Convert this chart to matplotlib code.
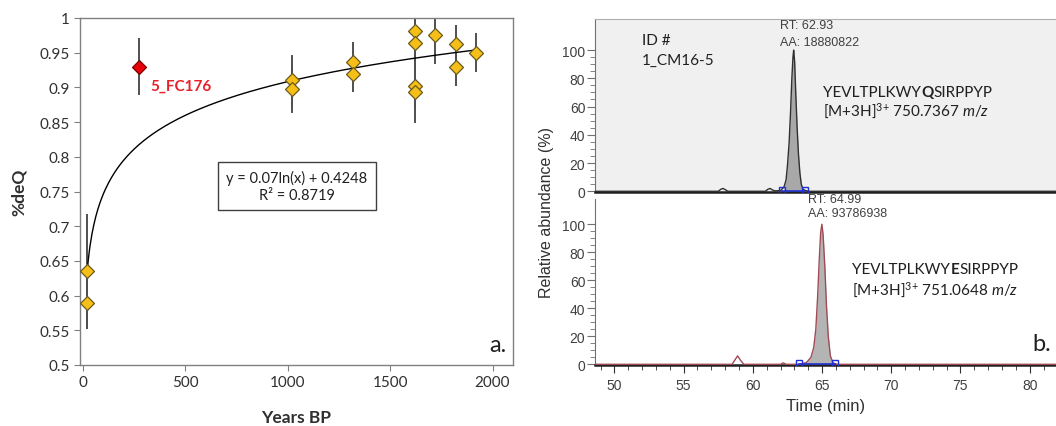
import numpy as np
import matplotlib
matplotlib.use("Agg")
import matplotlib.pyplot as plt
from matplotlib.ticker import MultipleLocator

# ---------------- data: panel a ----------------
years_bp = [20, 20, 1020, 1020, 1320, 1320, 1620, 1620, 1620, 1620, 1720, 1820, 1820, 1920]
deq = [0.635, 0.589, 0.910, 0.897, 0.936, 0.919, 0.981, 0.964, 0.902, 0.894, 0.975, 0.962, 0.930, 0.950]
deq_err = [0.083, 0.037, 0.037, 0.034, 0.030, 0.026, 0.045, 0.050, 0.035, 0.045, 0.041, 0.028, 0.028, 0.028]
outlier_x = [275]
outlier_y = [0.930]
outlier_err = [0.041]
outlier_label = "5_FC176"
fit_a = 0.07
fit_b = 0.4248
fit_r2 = 0.8719
fit_range = [20, 1920]

# ---------------- data: panel b (chromatogram traces) ----------------
top_time = [48.6, 57.5, 57.7, 57.85, 58.0, 58.2, 60.9, 61.1, 61.25, 61.4, 61.6, 62.0, 62.25, 62.4,
            62.5, 62.62, 62.72, 62.82, 62.9, 62.95, 63.02, 63.1, 63.2, 63.3, 63.4, 63.5, 63.62, 63.8, 64.1, 81.9]
top_int = [0, 0, 1.5, 2, 1.2, 0, 0, 1.5, 2, 1, 0.3, 0.5, 3, 8, 18, 34, 55, 80, 95, 100, 92, 70,
           45, 26, 13, 5, 1.5, 0.5, 0, 0]
top_rt = 62.93
top_aa = 18880822
top_bounds = [62.1, 63.75]
top_peptide = ["YEVLTPLKWY", "Q", "SIRPPYP"]
top_mz = "750.7367"

bot_time = [48.6, 58.5, 58.7, 58.9, 59.1, 59.35, 62.0, 62.2, 62.4, 63.3, 63.6, 63.9, 64.2, 64.4,
            64.55, 64.68, 64.8, 64.9, 64.99, 65.08, 65.2, 65.32, 65.45, 65.6, 65.8, 66.1, 81.9]
bot_int = [0, 0, 3, 6, 3, 0, 0, 1, 0, 0, 0.5, 1.5, 5, 12, 25, 48, 75, 94, 100, 92, 70, 42, 20, 6,
           1, 0, 0]
bot_rt = 64.99
bot_aa = 93786938
bot_bounds = [63.3, 65.95]
bot_peptide = ["YEVLTPLKWY", "E", "SIRPPYP"]
bot_mz = "751.0648"

W, H = 1056, 427
plt.rcParams['font.family'] = ['Lato', 'DejaVu Sans']
plt.rcParams['mathtext.fontset'] = 'custom'
plt.rcParams['mathtext.rm'] = 'Lato'
plt.rcParams['mathtext.it'] = 'Lato:italic'
plt.rcParams['mathtext.bf'] = 'Lato:bold'
fig = plt.figure(figsize=(W / 100, H / 100), dpi=100)

def fx(px):
    return px / W

def fy(py):
    return 1 - py / H

# ---------------- panel a ----------------
axa = fig.add_axes([fx(80), fy(366), fx(513) - fx(80), fy(19) - fy(366)])
gold = '#f6bf17'
axa.errorbar(years_bp, deq, yerr=deq_err, fmt='none', ecolor='#505050', elinewidth=1.4, capsize=0, zorder=2)
axa.errorbar(outlier_x, outlier_y, yerr=outlier_err, fmt='none', ecolor='#505050', elinewidth=1.4, capsize=0, zorder=2)
xx = np.linspace(fit_range[0], fit_range[1], 400)
axa.plot(xx, fit_a * np.log(xx) + fit_b, color='black', lw=1.0, zorder=3)
axa.plot(years_bp, deq, linestyle='none', marker='D', markersize=7.5, markerfacecolor=gold,
         markeredgecolor='#6b5a1e', markeredgewidth=0.9, zorder=4)
axa.plot(outlier_x, outlier_y, linestyle='none', marker='D', markersize=7.5, markerfacecolor='#e8000b',
         markeredgecolor='#7a0000', markeredgewidth=0.9, zorder=4)
axa.text(outlier_x[0] + 55, outlier_y[0] - 0.027, outlier_label, color='#e8202a', fontsize=11,
         fontweight='bold', va='center', ha='left')
axa.text(1045, 0.758, f"y = {fit_a}ln(x) + {fit_b}\nR² = {fit_r2}", ha='center', va='center',
         fontsize=10.5, color='#202020', linespacing=1.2,
         bbox=dict(boxstyle='square,pad=0.55', facecolor='white', edgecolor='#404040', lw=1.0))
axa.text(0.985, 0.06, "a.", transform=axa.transAxes, ha='right', va='center', fontsize=17, color='#202020')
axa.set_xlim(-15, 2100)
axa.set_ylim(0.5, 1.0)
axa.xaxis.set_major_locator(MultipleLocator(500))
axa.set_yticks([0.5, 0.55, 0.6, 0.65, 0.7, 0.75, 0.8, 0.85, 0.9, 0.95, 1.0])
axa.set_yticklabels(['0.5', '0.55', '0.6', '0.65', '0.7', '0.75', '0.8', '0.85', '0.9', '0.95', '1'])
for s in axa.spines.values():
    s.set_color('#808080')
    s.set_linewidth(1.0)
axa.tick_params(colors='#808080', labelcolor='#303030', labelsize=11, length=4, direction='out')
axa.set_xlabel("Years BP", fontsize=12.5, fontweight='bold', color='#303030', labelpad=14)
axa.set_ylabel("%deQ", fontsize=12.5, fontweight='bold', color='#303030', labelpad=9)

# ---------------- panel b ----------------
xl = (48.6, 81.9)
axt = fig.add_axes([fx(595), fy(193), 1 - fx(595), fy(20) - fy(193)])
axb = fig.add_axes([fx(595), fy(366), 1 - fx(595), fy(200) - fy(366)])
axt.set_facecolor('#f0f0f0')

def draw_trace(ax, t, y, color, bounds, fillcol):
    t = np.asarray(t)
    y = np.asarray(y)
    m = (t >= bounds[0]) & (t <= bounds[1])
    ax.fill_between(t[m], 0, y[m], color=fillcol, lw=0, zorder=2)
    ax.plot(t, y, color=color, lw=1.0, zorder=3)
    ax.plot(bounds, [0.3, 0.3], color='#2030d0', lw=1.2, zorder=4)
    ax.plot(bounds, [1.2, 1.2], linestyle='none', marker='s', markersize=4.5, markerfacecolor='none',
            markeredgecolor='#2030d0', markeredgewidth=1.0, zorder=5)

draw_trace(axt, top_time, top_int, '#303030', top_bounds, '#a8a8a8')
draw_trace(axb, bot_time, bot_int, '#a04a55', bot_bounds, '#b4b4b4')

for ax, top in ((axt, 122), (axb, 118)):
    ax.set_xlim(*xl)
    ax.set_ylim(-0.5, top)
    ax.set_yticks([0, 20, 40, 60, 80, 100])
    ax.set_yticks(np.arange(0, 101, 5), minor=True)
    ax.spines['right'].set_visible(False)
    ax.spines['left'].set_color('#707070')
    ax.spines['bottom'].set_color('#202020')
    ax.spines['bottom'].set_linewidth(1.8)
    ax.tick_params(axis='y', which='major', length=6, color='#707070', labelsize=10, labelcolor='#404040', pad=1)
    ax.tick_params(axis='y', which='minor', length=3.5, color='#707070')
    ax.tick_params(axis='x', which='major', length=6, color='#303030', labelsize=10, labelcolor='#404040')
    ax.tick_params(axis='x', which='minor', length=3.5, color='#303030')
    ax.xaxis.set_major_locator(MultipleLocator(5))
    ax.xaxis.set_minor_locator(MultipleLocator(1))

axt.spines['top'].set_color('#b0b0b0')
axb.spines['top'].set_visible(False)
axt.tick_params(axis='x', which='both', bottom=False, labelbottom=False)
axb.set_xlabel("Time (min)", fontsize=12, color='#303030', family='Liberation Sans', labelpad=4)
for ax in (axt, axb):
    for lab in ax.get_xticklabels() + ax.get_yticklabels():
        lab.set_family('Liberation Sans')

fig.text(fx(546), fy(213), "Relative abundance (%)", rotation=90, ha='center', va='center',
         fontsize=11.5, color='#303030', family='Liberation Sans')


def peptide(ax, x, y, parts):
    t = ax.text(x, y, parts[0], fontsize=11, color='#202020', va='bottom')
    t = ax.annotate(parts[1], xy=(1, 0), xycoords=t, va='bottom', fontsize=11, color='#202020',
                    fontweight='bold')
    ax.annotate(parts[2], xy=(1, 0), xycoords=t, va='bottom', fontsize=11, color='#202020')


axt.text(52, 107, "ID #", fontsize=11, color='#202020', va='center')
axt.text(52, 93, "1_CM16-5", fontsize=11, color='#202020', va='center')
axt.text(top_rt - 0.95, 117.5, f"RT: {top_rt}", fontsize=9, color='#404040', va='center', family='Liberation Sans')
axt.text(top_rt - 0.95, 106, f"AA: {top_aa}", fontsize=9, color='#404040', va='center', family='Liberation Sans')
peptide(axt, 65.1, 65, top_peptide)
axt.text(65.1, 57.5, r"[M+3H]$^{3{+}}$ " + top_mz + r" $\it{m/z}$", fontsize=11, color='#202020', va='center')

axb.text(bot_rt - 1.0, 118, f"RT: {bot_rt}", fontsize=9, color='#404040', va='center', family='Liberation Sans', clip_on=False)
axb.text(bot_rt - 1.0, 108, f"AA: {bot_aa}", fontsize=9, color='#404040', va='center', family='Liberation Sans')
peptide(axb, 67.2, 63, bot_peptide)
axb.text(67.2, 53.5, r"[M+3H]$^{3{+}}$ " + bot_mz + r" $\it{m/z}$", fontsize=11, color='#202020', va='center')
axb.text(80.2, 15, "b.", fontsize=17, color='#202020', va='center')

fig.savefig("out.png", dpi=100)
